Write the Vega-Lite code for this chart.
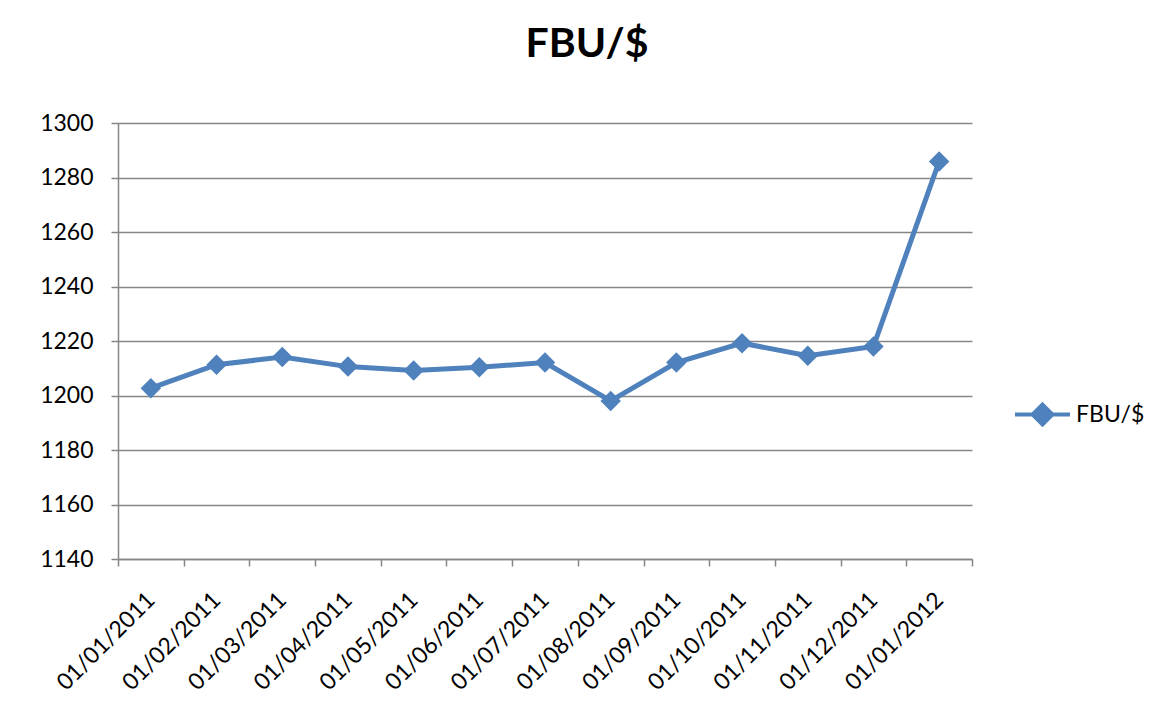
{
  "$schema": "https://vega.github.io/schema/vega-lite/v6.json",
  "width": 854,
  "height": 436,
  "autosize": {"type": "none"},
  "padding": {"left": 118, "top": 123, "right": 179, "bottom": 160},
  "background": "white",
  "title": {
    "text": "FBU/$",
    "font": "Lato",
    "fontSize": 41,
    "fontWeight": "bold",
    "color": "#000000",
    "anchor": "middle",
    "dx": 42,
    "offset": 46
  },
  "data": {
    "values": [
      {"date": "01/01/2011", "value": 1202.7, "series": "FBU/$"},
      {"date": "01/02/2011", "value": 1211.3, "series": "FBU/$"},
      {"date": "01/03/2011", "value": 1214.1, "series": "FBU/$"},
      {"date": "01/04/2011", "value": 1210.6, "series": "FBU/$"},
      {"date": "01/05/2011", "value": 1209.2, "series": "FBU/$"},
      {"date": "01/06/2011", "value": 1210.4, "series": "FBU/$"},
      {"date": "01/07/2011", "value": 1212.1, "series": "FBU/$"},
      {"date": "01/08/2011", "value": 1198.0, "series": "FBU/$"},
      {"date": "01/09/2011", "value": 1212.1, "series": "FBU/$"},
      {"date": "01/10/2011", "value": 1219.2, "series": "FBU/$"},
      {"date": "01/11/2011", "value": 1214.6, "series": "FBU/$"},
      {"date": "01/12/2011", "value": 1218.0, "series": "FBU/$"},
      {"date": "01/01/2012", "value": 1285.9, "series": "FBU/$"}
    ]
  },
  "mark": {
    "type": "line",
    "strokeWidth": 5,
    "point": {"shape": "diamond", "size": 420, "filled": true, "opacity": 1}
  },
  "encoding": {
    "x": {
      "field": "date",
      "type": "ordinal",
      "sort": null,
      "scale": {"type": "band", "paddingInner": 0, "paddingOuter": 0},
      "axis": {
        "title": null,
        "labelAngle": -45,
        "labelAlign": "right",
        "labelBaseline": "middle",
        "labelPadding": 30,
        "tickBand": "extent",
        "grid": false,
        "ticks": true,
        "tickSize": 7
      }
    },
    "y": {
      "field": "value",
      "type": "quantitative",
      "scale": {"domain": [1140, 1300], "nice": false, "zero": false},
      "axis": {
        "title": null,
        "format": "d",
        "values": [1140, 1160, 1180, 1200, 1220, 1240, 1260, 1280, 1300],
        "grid": true,
        "tickSize": 7,
        "labelPadding": 18
      }
    },
    "color": {
      "field": "series",
      "type": "nominal",
      "scale": {"range": ["#4F81BD"]},
      "legend": {
        "title": null,
        "orient": "none",
        "legendX": 895,
        "legendY": 262,
        "padding": 0,
        "symbolType": "M-1,0H1M0,-0.36L0.36,0L0,0.36L-0.36,0Z",
        "symbolSize": 3025,
        "symbolStrokeWidth": 4,
        "symbolFillColor": "#4F81BD",
        "symbolStrokeColor": "#4F81BD",
        "labelFont": "Lato",
        "labelFontSize": 23,
        "labelColor": "#000000",
        "labelOffset": 4
      }
    }
  },
  "config": {
    "view": {"stroke": null},
    "axis": {
      "domainColor": "#868686",
      "domainWidth": 1.5,
      "tickColor": "#868686",
      "tickWidth": 1.5,
      "gridColor": "#868686",
      "gridWidth": 1.5,
      "gridOpacity": 1,
      "labelFont": "Lato",
      "labelFontSize": 23,
      "labelColor": "#000000"
    }
  }
}
